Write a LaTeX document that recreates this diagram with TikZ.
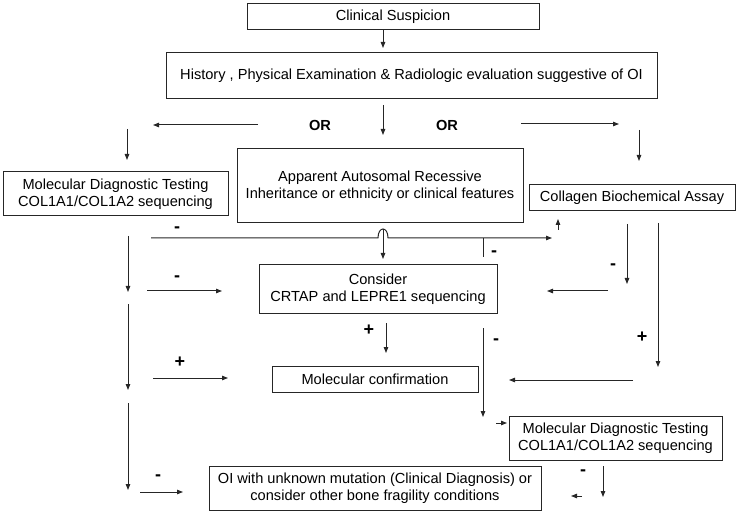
\documentclass[tikz,border=0pt]{standalone}
\usepackage{fontspec}
\setmainfont{Liberation Sans}
\usetikzlibrary{arrows.meta}
\begin{document}
\begin{tikzpicture}[x=1pt,y=-1pt,
  box/.style={draw=black!85,line width=1pt,rectangle,inner sep=0pt,align=center,
    font=\fontsize{14.6}{17.5}\selectfont},
  arr/.style={draw=black!85,line width=1pt,-{Triangle[length=6pt,width=4.5pt]}},
  ln/.style={draw=black!85,line width=1pt},
  lbl/.style={inner sep=0pt,font=\fontsize{14.6}{17.5}\selectfont\bfseries},
  sgn/.style={inner sep=0pt,font=\fontsize{18}{20}\selectfont\bfseries}]
\useasboundingbox (0,0) rectangle (742,513);
% boxes
\node[box,minimum width=292pt,minimum height=26pt] (cs) at (393,17) {Clinical Suspicion};
\node[box,minimum width=491pt,minimum height=46pt] (hist) at (411.5,76) {History , Physical Examination \& Radiologic evaluation suggestive of OI};
\node[box,minimum width=225pt,minimum height=44pt] (mdt1) at (115.5,194) {Molecular Diagnostic Testing\\COL1A1/COL1A2 sequencing};
\node[box,minimum width=286pt,minimum height=74pt] (app) at (380,186) {Apparent Autosomal Recessive\\Inheritance or ethnicity or clinical features};
\node[box,minimum width=206pt,minimum height=26pt] (cba) at (632,198) {Collagen Biochemical Assay};
\node[box,minimum width=238pt,minimum height=49pt] (cons) at (378,289) {Consider\\CRTAP and LEPRE1 sequencing};
\node[box,minimum width=206pt,minimum height=26pt] (molc) at (375,379) {Molecular confirmation};
\node[box,minimum width=213pt,minimum height=44pt] (mdt2) at (615.5,438) {Molecular Diagnostic Testing\\COL1A1/COL1A2 sequencing};
\node[box,minimum width=332pt,minimum height=44pt] (oi) at (375,488) {OI with unknown mutation (Clinical Diagnosis) or\\consider other bone fragility conditions};
% labels
\node[lbl] (or1) at (320,125) {OR};
\node[lbl] (or2) at (447,125) {OR};
\node[sgn] (m1) at (177,230) {-};
\node[sgn] (m2) at (494,254) {-};
\node[sgn] (m3) at (177,279) {-};
\node[sgn] (m4) at (613,267) {-};
\node[sgn] (m5) at (496,342) {-};
\node[sgn] (m6) at (158,478) {-};
\node[sgn] (m7) at (583,473) {-};
\node[sgn] (p1) at (180,362) {+};
\node[sgn] (p2) at (369,330) {+};
\node[sgn] (p3) at (642,337) {+};
% coordinates
\coordinate (a1s) at (383,30);   \coordinate (a1e) at (383,48);
\coordinate (a2s) at (383,105);  \coordinate (a2e) at (383,135);
\coordinate (a3s) at (258,125);  \coordinate (a3e) at (153,125);
\coordinate (a4s) at (521,124);  \coordinate (a4e) at (619,124);
\coordinate (a5s) at (127,129);  \coordinate (a5e) at (127,160);
\coordinate (a6s) at (639,130);  \coordinate (a6e) at (639,161);
\coordinate (hs) at (151,238);   \coordinate (hl) at (378,238);
\coordinate (hc1) at (378,226);  \coordinate (hc2) at (388,226);
\coordinate (hr) at (388,238);   \coordinate (he) at (552,238);
\coordinate (a8s) at (383,229);  \coordinate (a8e) at (383,259);
\coordinate (t1s) at (483,238);  \coordinate (t1e) at (483,257);
\coordinate (a10s) at (558,230); \coordinate (a10e) at (558,219);
\coordinate (l1s) at (128,236);  \coordinate (l1e) at (128,292);
\coordinate (a12s) at (147,291); \coordinate (a12e) at (222,291);
\coordinate (l2s) at (128,304);  \coordinate (l2e) at (128,390);
\coordinate (a14s) at (153,378); \coordinate (a14e) at (228,378);
\coordinate (l3s) at (128,403);  \coordinate (l3e) at (128,490);
\coordinate (a16s) at (140,492); \coordinate (a16e) at (183,492);
\coordinate (a17s) at (627,224); \coordinate (a17e) at (627,284);
\coordinate (a18s) at (608,291); \coordinate (a18e) at (547,291);
\coordinate (a19s) at (386,323); \coordinate (a19e) at (386,353);
\coordinate (a20s) at (483,328); \coordinate (a20e) at (483,417);
\coordinate (a21s) at (658,223); \coordinate (a21e) at (658,367);
\coordinate (a22s) at (633,380); \coordinate (a22e) at (509,380);
\coordinate (a23s) at (496,423); \coordinate (a23e) at (507,423);
\coordinate (a24s) at (603,466); \coordinate (a24e) at (603,497);
\coordinate (a25s) at (582,496); \coordinate (a25e) at (571,496);
% connectors
\draw[arr] (a1s) -- (a1e);
\draw[arr] (a2s) -- (a2e);
\draw[arr] (a3s) -- (a3e);
\draw[arr] (a4s) -- (a4e);
\draw[arr] (a5s) -- (a5e);
\draw[arr] (a6s) -- (a6e);
\draw[arr] (hs) -- (hl) .. controls (hc1) and (hc2) .. (hr) -- (he);
\draw[arr] (a8s) -- (a8e);
\draw[ln] (t1s) -- (t1e);
\draw[arr] (a10s) -- (a10e);
\draw[arr] (l1s) -- (l1e);
\draw[arr] (a12s) -- (a12e);
\draw[arr] (l2s) -- (l2e);
\draw[arr] (a14s) -- (a14e);
\draw[arr] (l3s) -- (l3e);
\draw[arr] (a16s) -- (a16e);
\draw[arr] (a17s) -- (a17e);
\draw[arr] (a18s) -- (a18e);
\draw[arr] (a19s) -- (a19e);
\draw[arr] (a20s) -- (a20e);
\draw[arr] (a21s) -- (a21e);
\draw[arr] (a22s) -- (a22e);
\draw[arr] (a23s) -- (a23e);
\draw[arr] (a24s) -- (a24e);
\draw[arr] (a25s) -- (a25e);
\end{tikzpicture}
\end{document}
